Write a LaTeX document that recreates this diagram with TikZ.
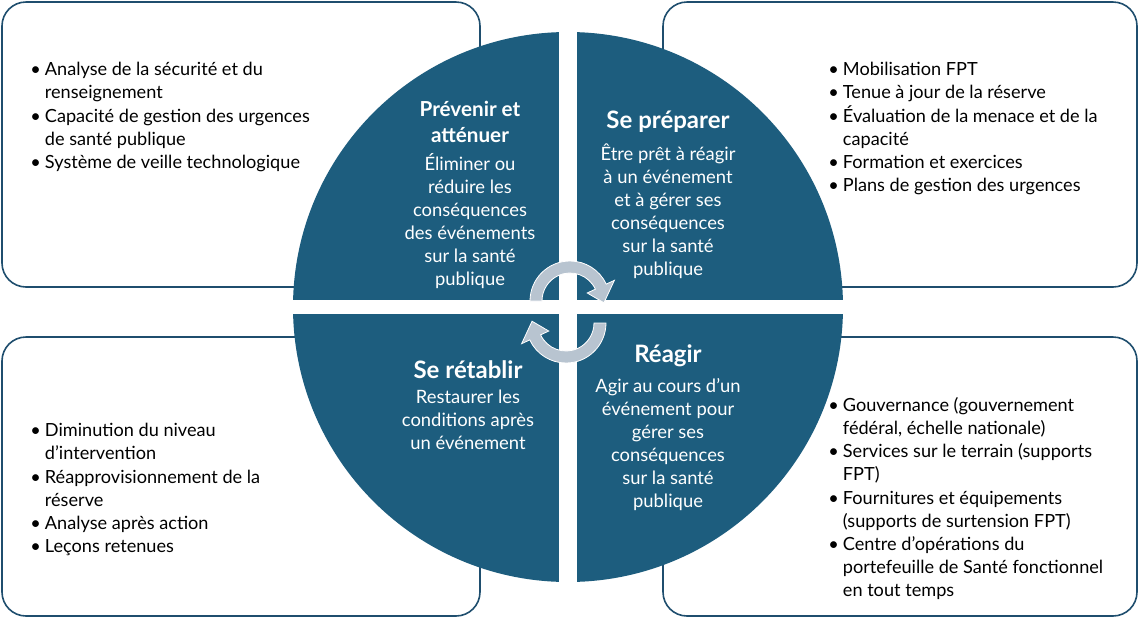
\documentclass[tikz,border=0pt]{standalone}
\usepackage{fontspec}
\setmainfont{Lato}
\usetikzlibrary{positioning}
\definecolor{quadblue}{HTML}{1D5D7E}
\definecolor{boxline}{HTML}{1F4E6E}
\definecolor{arrowgrey}{HTML}{B8C4D0}
\newcommand\bul{\makebox[11pt][l]{\textbullet}}
\newcommand\ind{\hspace*{11pt}}
\begin{document}
\begin{tikzpicture}[x=0.75pt,y=-0.75pt,
    infobox/.style={draw=boxline,line width=1.2pt,rounded corners=18pt,fill=white},
    listtext/.style={align=left,anchor=north west,inner sep=0pt,font=\fontsize{13.6}{17.4}\selectfont},
    quadtext/.style={align=center,text=white,inner sep=0pt,font=\fontsize{13.8}{17.2}\selectfont},
    quadtitle/.style={align=center,text=white,inner sep=0pt,font=\bfseries\fontsize{15.5}{19}\selectfont},
    cyclearrow/.style={fill=arrowgrey,draw=white,line width=0.6pt}]
  \useasboundingbox (0,0) rectangle (1140,619);
  % boxes
  \draw[infobox] (2,2) rectangle (480,287);
  \draw[infobox] (663,2) rectangle (1137,287);
  \draw[infobox] (2,337) rectangle (480,616);
  \draw[infobox] (663,337) rectangle (1137,616);
  % circle and gaps
  \fill[quadblue] (568,307) circle[radius=275];
  \begin{scope}
    \clip (568,307) circle[radius=276];
    \fill[white] (559,20) rectangle (577,600);
    \fill[white] (280,300) rectangle (860,314);
  \end{scope}
  % lists
  \node[listtext] (prevlist) at (30,62) {\bul Analyse de la sécurité et du\\ \ind renseignement\\
    \bul Capacité de gestion des urgences\\ \ind de santé publique\\ \bul Système de veille technologique};
  \node[listtext] (preplist) at (828,62) {\bul Mobilisation FPT\\ \bul Tenue à jour de la réserve\\
    \bul Évaluation de la menace et de la\\ \ind capacité\\ \bul Formation et exercices\\
    \bul Plans de gestion des urgences};
  \node[listtext] (retlist) at (30,423) {\bul Diminution du niveau\\ \ind d’intervention\\
    \bul Réapprovisionnement de la\\ \ind réserve\\ \bul Analyse après action\\ \bul Leçons retenues};
  \node[listtext] (reaglist) at (828,397) {\bul Gouvernance (gouvernement\\ \ind fédéral, échelle nationale)\\
    \bul Services sur le terrain (supports\\ \ind FPT)\\ \bul Fournitures et équipements\\
    \ind (supports de surtension FPT)\\ \bul Centre d'opérations du\\
    \ind portefeuille de Santé fonctionnel\\ \ind en tout temps};
  % quadrants
  \node[quadtitle] (prev) at (470,122) {Prévenir et\\ atténuer};
  \node[quadtext, below=8pt of prev] {Éliminer ou\\ réduire les\\ conséquences\\ des événements\\ sur la santé\\ publique};
  \node[quadtitle,font=\bfseries\fontsize{18}{20}\selectfont] (prep) at (668,122) {Se préparer};
  \node[quadtext, below=8pt of prep] {Être prêt à réagir\\ à un événement\\ et à gérer ses\\ conséquences\\ sur la santé\\ publique};
  \node[quadtitle,font=\bfseries\fontsize{18}{20}\selectfont] (ret) at (468,370) {Se rétablir};
  \node[quadtext, below=8pt of ret] {Restaurer les\\ conditions après\\ un événement};
  \node[quadtitle,font=\bfseries\fontsize{18}{20}\selectfont] (reag) at (668,356) {Réagir};
  \node[quadtext, below=8pt of reag] {Agir au cours d’un\\ événement pour\\ gérer ses\\ conséquences\\ sur la santé\\ publique};
  % cycle arrows
  \foreach \rot in {0,180}{
    \begin{scope}[rotate around={\rot:(568,312)}, shift={(570,301)}]
      \draw[cyclearrow] (180:40) arc[start angle=180,end angle=335,radius=40]
        -- (335:49) -- (3:34) -- (335:19) -- (335:28)
        arc[start angle=335,end angle=180,radius=28] -- cycle;
    \end{scope}
  }
\end{tikzpicture}
\end{document}
